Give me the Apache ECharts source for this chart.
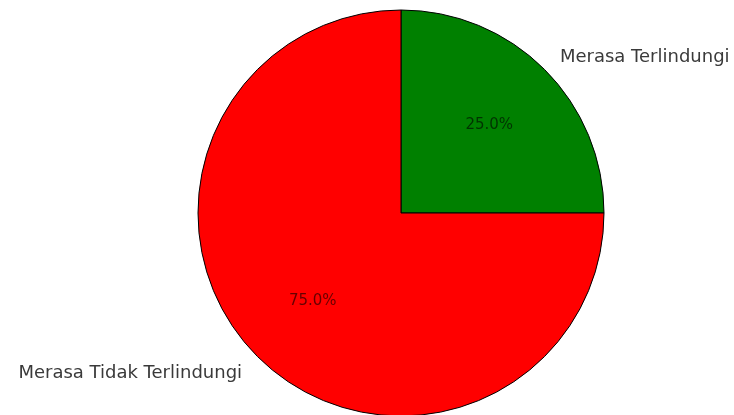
<!DOCTYPE html>
<html>
<head>
<meta charset="utf-8">
<script src="https://cdn.jsdelivr.net/npm/echarts@6/dist/echarts.min.js"></script>
<style>
	html, body { margin: 0; padding: 0; background: #fff; }
	#pie { width: 734px; height: 415px; }
</style>
</head>
<body>
<div id="pie"></div>
<script>
var categories = ['Merasa Terlindungi', 'Merasa Tidak Terlindungi'];
var values = [25, 75];
var colors = ['#008000', '#ff0000'];

function pie() {
	var myChart = echarts.init(document.getElementById('pie'));
	var R = 203;
	var center = [401, 213];
	var data = categories.map(function (name, i) {
		return { name: name, value: values[i], itemStyle: { color: colors[i] } };
	});
	var total = values.reduce(function (a, b) { return a + b; }, 0);
	option = {
		animation: false,
		series: [{
			name: 'slices',
			type: 'pie',
			center: center,
			radius: [0, R],
			startAngle: 90,
			clockwise: true,
			avoidLabelOverlap: false,
			silent: true,
			itemStyle: {
				borderColor: '#000',
				borderWidth: 1
			},
			label: {
				show: true,
				position: 'outside',
				formatter: '{b}',
				fontFamily: 'DejaVu Sans',
				fontSize: 18,
				color: '#3a3a3a',
				distanceToLabelLine: 1,
				offset: [0, 2]
			},
			labelLine: {
				show: false,
				length: R * 0.1,
				length2: 0
			},
			data: data
		}, {
			name: 'pct',
			type: 'pie',
			center: center,
			radius: [R * 0.2, R], //内侧标签位于 0.6R
			startAngle: 90,
			clockwise: true,
			silent: true,
			itemStyle: { color: 'rgba(0,0,0,0)' },
			label: {
				show: true,
				position: 'inside',
				formatter: function (p) {
					return (p.value / total * 100).toFixed(1) + '%';
				},
				fontFamily: 'DejaVu Sans',
				fontSize: 15,
				color: 'rgba(0,0,0,0.6)'
			},
			labelLine: { show: false },
			data: data.map(function (d) { return { name: d.name, value: d.value }; })
		}]
	};
	myChart.setOption(option);
}
pie();
</script>
</body>
</html>
